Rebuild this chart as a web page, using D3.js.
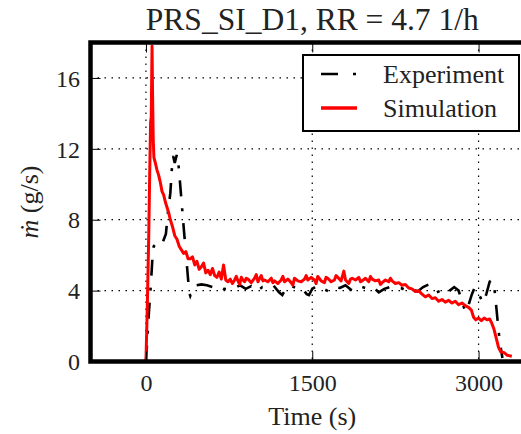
<!DOCTYPE html>
<html>
<head>
<meta charset="utf-8">
<script src="https://cdn.jsdelivr.net/npm/d3@7"></script>
<style>
  body { margin: 0; background: #fff; }
  svg { display: block; }
</style>
</head>
<body>
<div id="chart"></div>
<script>
// chart values
const chartTitle = "PRS_SI_D1, RR = 4.7 1/h";
const xTicks = [0, 1500, 3000];
const yTicks = [0, 4, 8, 12, 16];
const seriesNames = ["Experiment", "Simulation"];

const expTime = [0, 15, 25, 45, 60, 70, 85, 100, 120, 150, 180, 200, 220, 235, 245, 260, 280, 295, 310, 340, 370, 390, 400, 420, 450, 500,
  550, 600, 650, 700, 760, 800, 850, 900, 950, 1000, 1050, 1100, 1150, 1200, 1230, 1260, 1300, 1350, 1400, 1450, 1470, 1500,
  1550, 1600, 1650, 1700, 1750, 1800, 1850, 1900, 1950, 2000, 2050, 2100, 2150, 2200, 2250, 2300, 2350, 2400, 2450, 2500,
  2550, 2580, 2620, 2660, 2700, 2740, 2780, 2820, 2860, 2880, 2900, 2940, 2960, 2985, 3010, 3040, 3070, 3100, 3120, 3140,
  3155, 3170, 3185, 3200, 3215];
const expFlow = [0, 1.5, 2.6, 4.4, 6.0, 6.5, 6.6, 6.5, 6.5, 6.7, 7.2, 8.5, 9.5, 11.0, 11.6, 11.2, 11.7, 11.0, 9.9, 7.6, 5.4, 3.9, 3.7, 4.0, 4.3, 4.35,
  4.3, 4.2, 4.3, 4.1, 4.05, 4.15, 4.3, 4.1, 4.25, 3.95, 4.2, 4.15, 4.3, 3.9, 3.75, 4.1, 4.3, 4.15, 4.2, 3.8, 3.75, 4.1,
  4.3, 4.1, 3.95, 4.2, 4.15, 4.3, 4.05, 3.95, 4.2, 4.1, 4.2, 3.9, 4.1, 4.2, 4.1, 4.15, 4.0, 4.1, 3.95, 4.2,
  4.35, 4.2, 3.9, 4.0, 3.8, 4.0, 4.2, 4.0, 3.2, 2.8, 3.0, 3.8, 4.1, 4.15, 3.7, 3.3, 3.8, 4.5, 4.6, 4.3,
  3.4, 2.4, 1.5, 0.8, 0.2];

const simTime = [0, 12, 25, 35, 42, 48, 55, 60, 66, 72, 85, 100, 115, 130, 145, 160, 175, 190, 205, 220, 240, 260, 280, 300, 320, 340,
  360, 380, 400, 420, 440, 460, 480, 500, 520, 540, 560, 580, 600, 620, 640, 660, 680, 700, 720, 740, 760, 780, 800, 815, 830,
  845, 860, 875, 890, 905, 920, 950, 980, 995, 1010, 1040, 1055, 1070, 1100, 1130, 1145, 1160, 1190, 1220, 1235, 1250, 1280, 1310, 1325, 1340, 1370, 1400, 1430, 1445, 1460,
  1490, 1520, 1535, 1550, 1580, 1610, 1625, 1640, 1670, 1700, 1715, 1730, 1760, 1785, 1800, 1830, 1845, 1860, 1890, 1920, 1935, 1950, 1980, 2010, 2025, 2040,
  2070, 2100, 2115, 2130, 2160, 2190, 2205, 2220, 2250, 2280, 2310, 2340, 2370, 2400, 2430, 2460, 2490, 2520, 2550, 2580, 2610, 2640,
  2670, 2700, 2730, 2760, 2790, 2820, 2850, 2880, 2910, 2935, 2955, 2975, 3000, 3025, 3050, 3075, 3100, 3120, 3140, 3160,
  3180, 3200, 3230, 3260, 3300];
const simFlow = [0, 3, 7, 11, 13.5, 13.8, 17.8, 15, 12.5, 11.5, 11.2, 10.8, 10.5, 10.1, 9.6, 9.4, 9.0, 8.7, 8.4, 8.0, 7.6, 7.1, 6.9, 6.5, 6.3, 6.1,
  6.2, 5.8, 5.8, 5.9, 5.45, 5.65, 5.2, 5.35, 5.55, 5.0, 5.15, 4.9, 5.25, 4.85, 4.75, 5.05, 4.65, 5.45, 4.6, 4.5, 4.65, 4.4, 4.6, 4.8, 4.55,
  4.35, 4.75, 4.6, 4.5, 4.7, 4.65, 4.45, 4.7, 4.9, 4.5, 4.85, 4.55, 4.6, 4.5, 4.7, 4.45, 4.55, 4.4, 4.6, 4.8, 4.5, 4.65, 4.45, 4.3, 4.7, 4.55, 4.5, 4.65, 4.85, 4.6,
  4.75, 4.6, 4.4, 4.8, 4.55, 4.45, 4.75, 4.7, 4.5, 4.6, 4.85, 4.75, 4.55, 5.1, 4.6, 4.4, 4.65, 4.7, 4.6, 4.75, 4.5, 4.55, 4.7, 4.5, 4.8, 4.65,
  4.55, 4.6, 4.35, 4.45, 4.6, 4.5, 4.7, 4.55, 4.4, 4.45, 4.3, 4.35, 4.15, 4.1, 3.95, 4.0, 3.8, 3.65, 3.75, 3.55, 3.6, 3.4,
  3.5, 3.35, 3.45, 3.3, 3.4, 3.2, 3.3, 3.15, 3.05, 2.9, 2.5, 2.35, 2.45, 2.3, 2.45, 2.35, 2.4, 2.15, 1.8, 1.3,
  0.8, 0.55, 0.5, 0.35, 0.3];

const width = 521, height = 434;
// plot box, the right spine sits just outside the picture
const box = { left: 90.5, right: 534, top: 42.5, bottom: 361.5 };
const serif = "'Liberation Serif', 'Times New Roman', serif";

const x = d3.scaleLinear().domain([-500, 3500]).range([box.left, box.right]);
const y = d3.scaleLinear().domain([0, 18]).range([box.bottom, box.top]);

const svg = d3.select("#chart").append("svg")
  .attr("width", width)
  .attr("height", height)
  .attr("viewBox", [0, 0, width, height]);

svg.append("clipPath").attr("id", "plot-clip")
  .append("rect")
  .attr("x", box.left).attr("y", box.top)
  .attr("width", box.right - box.left).attr("height", box.bottom - box.top);

// dotted grid
const grid = svg.append("g")
  .attr("stroke", "#000")
  .attr("stroke-width", 1.2)
  .attr("stroke-dasharray", "1.5,5.5");

grid.selectAll("line.gx")
  .data(xTicks)
  .join("line")
  .attr("class", "gx")
  .attr("x1", d => x(d)).attr("x2", d => x(d))
  .attr("y1", box.top).attr("y2", box.bottom);

grid.selectAll("line.gy")
  .data(yTicks.filter(d => d > 0))
  .join("line")
  .attr("class", "gy")
  .attr("x1", box.left).attr("x2", box.right)
  .attr("y1", d => y(d)).attr("y2", d => y(d));

// series
const line = d3.line()
  .x(d => x(d[0]))
  .y(d => y(d[1]));

const expData = expTime.map((t, i) => [t, expFlow[i]]);
const simData = simTime.map((t, i) => [t, simFlow[i]]);

const plot = svg.append("g").attr("clip-path", "url(#plot-clip)");

plot.append("path")
  .datum(expData)
  .attr("fill", "none")
  .attr("stroke", "#000")
  .attr("stroke-width", 2.6)
  .attr("stroke-dasharray", "16,12,3,12")
  .attr("d", line);

plot.append("path")
  .datum(simData)
  .attr("fill", "none")
  .attr("stroke", "#ff0000")
  .attr("stroke-width", 3)
  .attr("stroke-linejoin", "round")
  .attr("d", line);

// axes, ticks point inward
const xAxisBottom = svg.append("g")
  .attr("transform", `translate(0,${box.bottom})`)
  .call(d3.axisBottom(x).tickValues(xTicks).tickFormat(d3.format("d")).tickSize(-10).tickPadding(12.5));

const xAxisTop = svg.append("g")
  .attr("transform", `translate(0,${box.top})`)
  .call(d3.axisTop(x).tickValues(xTicks).tickSize(-10).tickFormat(""));

const yAxis = svg.append("g")
  .attr("transform", `translate(${box.left},0)`)
  .call(d3.axisLeft(y).tickValues(yTicks).tickSize(-10).tickPadding(10.5));

[xAxisBottom, xAxisTop, yAxis].forEach(g => {
  g.select(".domain").remove();
  g.selectAll("text")
    .attr("font-family", serif)
    .attr("font-size", 24)
    .attr("fill", "#222");
});
yAxis.selectAll("text").attr("dy", "0.34em");

// frame
svg.append("rect")
  .attr("x", box.left).attr("y", box.top)
  .attr("width", box.right - box.left).attr("height", box.bottom - box.top)
  .attr("fill", "none")
  .attr("stroke", "#000")
  .attr("stroke-width", 4.5);

// title and axis labels
svg.append("text")
  .attr("x", x(1500))
  .attr("y", 30)
  .attr("text-anchor", "middle")
  .attr("font-family", serif)
  .attr("font-size", 31.5)
  .attr("fill", "#222")
  .text(chartTitle);

svg.append("text")
  .attr("x", x(1500))
  .attr("y", 425)
  .attr("text-anchor", "middle")
  .attr("font-family", serif)
  .attr("font-size", 26)
  .attr("fill", "#222")
  .text("Time (s)");

const yLabel = svg.append("text")
  .attr("transform", `translate(38,${(box.top + box.bottom) / 2}) rotate(-90)`)
  .attr("text-anchor", "middle")
  .attr("font-family", serif)
  .attr("font-size", 26)
  .attr("fill", "#222");
yLabel.append("tspan").attr("font-style", "italic").text("ṁ");
yLabel.append("tspan").text(" (g/s)");

// legend
const legend = svg.append("g");

legend.append("rect")
  .attr("x", 303).attr("y", 55)
  .attr("width", 216).attr("height", 76)
  .attr("fill", "#fff")
  .attr("stroke", "#000")
  .attr("stroke-width", 2);

const legendItems = legend.selectAll("g.item")
  .data(seriesNames)
  .join("g")
  .attr("class", "item")
  .attr("transform", (d, i) => `translate(0,${74 + i * 34})`);

legendItems.append("line")
  .attr("x1", 321).attr("x2", 357)
  .attr("stroke", (d, i) => i === 0 ? "#000" : "#ff0000")
  .attr("stroke-width", (d, i) => i === 0 ? 2.6 : 3.5)
  .attr("stroke-dasharray", (d, i) => i === 0 ? "17,15,3,15" : null);

legendItems.append("text")
  .attr("x", 383)
  .attr("y", 8.5)
  .attr("font-family", serif)
  .attr("font-size", 26)
  .attr("fill", "#222")
  .text(d => d);
</script>
</body>
</html>
